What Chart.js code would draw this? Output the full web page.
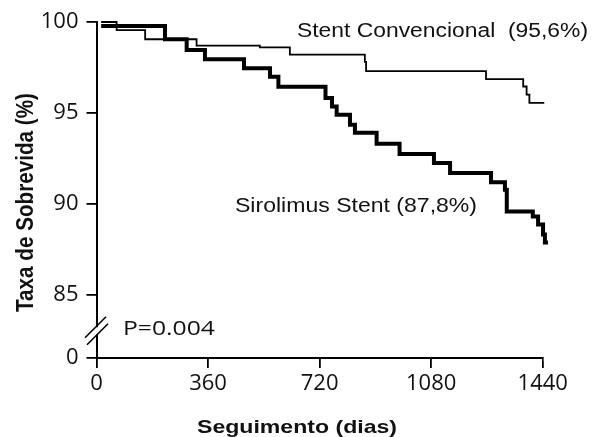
<!DOCTYPE html>
<html lang="pt-BR">
<head>
    <meta charset="UTF-8">
    <title>Taxa de Sobrevida</title>
    <script src="https://cdn.jsdelivr.net/npm/chart.js"></script>
    <style>
        body { margin: 0; background: #fff; }
        .chart-container { position: relative; width: 592px; height: 437px; }
    </style>
</head>
<body>
    <div class="chart-container">
        <canvas id="sobrevidaChart"></canvas>
    </div>

    <script>
        // Stent convencional (linha fina)
        const convDias = [15, 65, 157, 323, 527, 624, 866, 870, 1257, 1377, 1388, 1397, 1445];
        const convTaxa = [100, 99.55, 99.05, 98.7, 98.6, 98.2, 97.8, 97.3, 96.85, 96.45, 96.0, 95.55, 95.55];

        // Sirolimus stent (linha grossa)
        const siroDias = [15, 221, 291, 350, 476, 560, 587, 739, 760, 775, 818, 834, 904, 978, 1089, 1141, 1273, 1318, 1324, 1408, 1425, 1441, 1447, 1457];
        const siroTaxa = [99.78, 99.05, 98.46, 97.95, 97.46, 96.98, 96.43, 95.82, 95.35, 94.9, 94.34, 93.9, 93.3, 92.73, 92.24, 91.69, 91.17, 90.77, 89.56, 89.29, 88.85, 88.3, 87.86, 87.86];

        const xTicks = [0, 360, 720, 1080, 1440];
        const xFim = 1440;   // fim do eixo desenhado
        const xMax = 1458;   // as curvas passam um pouco do 1440
        // eixo y interrompido: o "0" fica logo abaixo do 85
        const yTickPos = [81.5, 85, 90, 95, 100];
        const yTickLabels = ['0', '85', '90', '95', '100'];
        const yBreak = 83;

        function pontos(dias, taxa) {
            return dias.map((d, i) => ({ x: d, y: taxa[i] }));
        }

        function textoAjustado(ctx, str, x, y, font, largura, escalaAltura, vertical) {
            ctx.save();
            ctx.font = font;
            const sx = largura / ctx.measureText(str).width;
            ctx.translate(x, y);
            if (vertical) ctx.rotate(-Math.PI / 2);
            ctx.scale(sx, escalaAltura || 1);
            ctx.fillStyle = '#111';
            ctx.textBaseline = 'alphabetic';
            ctx.textAlign = 'left';
            ctx.fillText(str, 0, 0);
            ctx.restore();
        }

        const extras = {
            id: 'extras',
            afterDraw(chart) {
                const ctx = chart.ctx;
                const xs = chart.scales.x;
                const ax = xs.left;
                const yb = chart.scales.y.getPixelForValue(yBreak);

                ctx.save();
                ctx.fillStyle = '#fff';
                // eixo x termina no 1440
                ctx.fillRect(xs.getPixelForValue(xFim) + 1, xs.top - 3, 20, 6);

                // quebra do eixo y
                ctx.fillRect(ax - 3, yb - 3.5, 6, 7);
                ctx.strokeStyle = '#000';
                ctx.lineWidth = 1.6;
                [[-3.5, -1], [3.5, 1]].forEach(([off, dx]) => {
                    ctx.beginPath();
                    ctx.moveTo(ax - 10.5 + dx, yb + off + 10.5);
                    ctx.lineTo(ax + 10.5 + dx, yb + off - 10.5);
                    ctx.stroke();
                });
                ctx.restore();

                // legendas das curvas
                textoAjustado(ctx, 'Stent Convencional  (95,6%)', 297, 37, '20px "Liberation Sans"', 291);
                textoAjustado(ctx, 'Sirolimus Stent (87,8%)', 235, 211.5, '20.5px "Liberation Sans"', 242);
                textoAjustado(ctx, 'P=0.004', 123, 335, '20px "Open Sans"', 92);

                // titulos dos eixos
                textoAjustado(ctx, 'Seguimento (dias)', 197, 433, 'bold 19px "Liberation Sans"', 200);
                textoAjustado(ctx, 'Taxa de Sobrevida (%)', 32.5, 312, 'bold 21px "Liberation Sans"', 219, 1.12, true);
            }
        };

        const ctx = document.getElementById('sobrevidaChart').getContext('2d');
        new Chart(ctx, {
            type: 'line',
            data: {
                datasets: [{
                    label: 'Stent Convencional',
                    data: pontos(convDias, convTaxa),
                    stepped: 'before',
                    borderColor: '#000',
                    borderWidth: 1.8,
                    pointRadius: 0,
                    borderJoinStyle: 'miter',
                    clip: false
                }, {
                    label: 'Sirolimus Stent',
                    data: pontos(siroDias, siroTaxa),
                    stepped: 'before',
                    borderColor: '#000',
                    borderWidth: 4,
                    pointRadius: 0,
                    borderJoinStyle: 'miter',
                    clip: false
                }]
            },
            options: {
                responsive: true,
                maintainAspectRatio: false,
                animation: false,
                layout: {
                    padding: { left: 0, top: 22, right: 43.7, bottom: 0 }
                },
                plugins: {
                    legend: { display: false },
                    tooltip: { enabled: false }
                },
                scales: {
                    x: {
                        type: 'linear',
                        min: 0,
                        max: xMax,
                        afterBuildTicks: function(scale) {
                            scale.ticks = xTicks.map(v => ({ value: v }));
                        },
                        afterFit: function(scale) {
                            scale.height = 79;
                        },
                        grid: {
                            drawOnChartArea: false,
                            color: '#000',
                            lineWidth: 1.8,
                            tickLength: 10
                        },
                        border: { color: '#000', width: 2 },
                        ticks: {
                            color: '#111',
                            padding: 3,
                            maxRotation: 0,
                            font: { family: 'Open Sans', size: 22 },
                            callback: function(value) {
                                return String(value);
                            }
                        }
                    },
                    y: {
                        type: 'linear',
                        min: 81.5,
                        max: 100,
                        afterBuildTicks: function(scale) {
                            scale.ticks = yTickPos.map(v => ({ value: v }));
                        },
                        afterFit: function(scale) {
                            scale.width = 96.5;
                        },
                        grid: {
                            drawOnChartArea: false,
                            color: '#000',
                            lineWidth: 1.8,
                            tickLength: 10
                        },
                        border: { color: '#000', width: 2 },
                        ticks: {
                            color: '#111',
                            padding: 8,
                            font: { family: 'Open Sans', size: 22 },
                            callback: function(value) {
                                const i = yTickPos.indexOf(value);
                                return i >= 0 ? yTickLabels[i] : '';
                            }
                        }
                    }
                }
            },
            plugins: [extras]
        });
    </script>
</body>
</html>
